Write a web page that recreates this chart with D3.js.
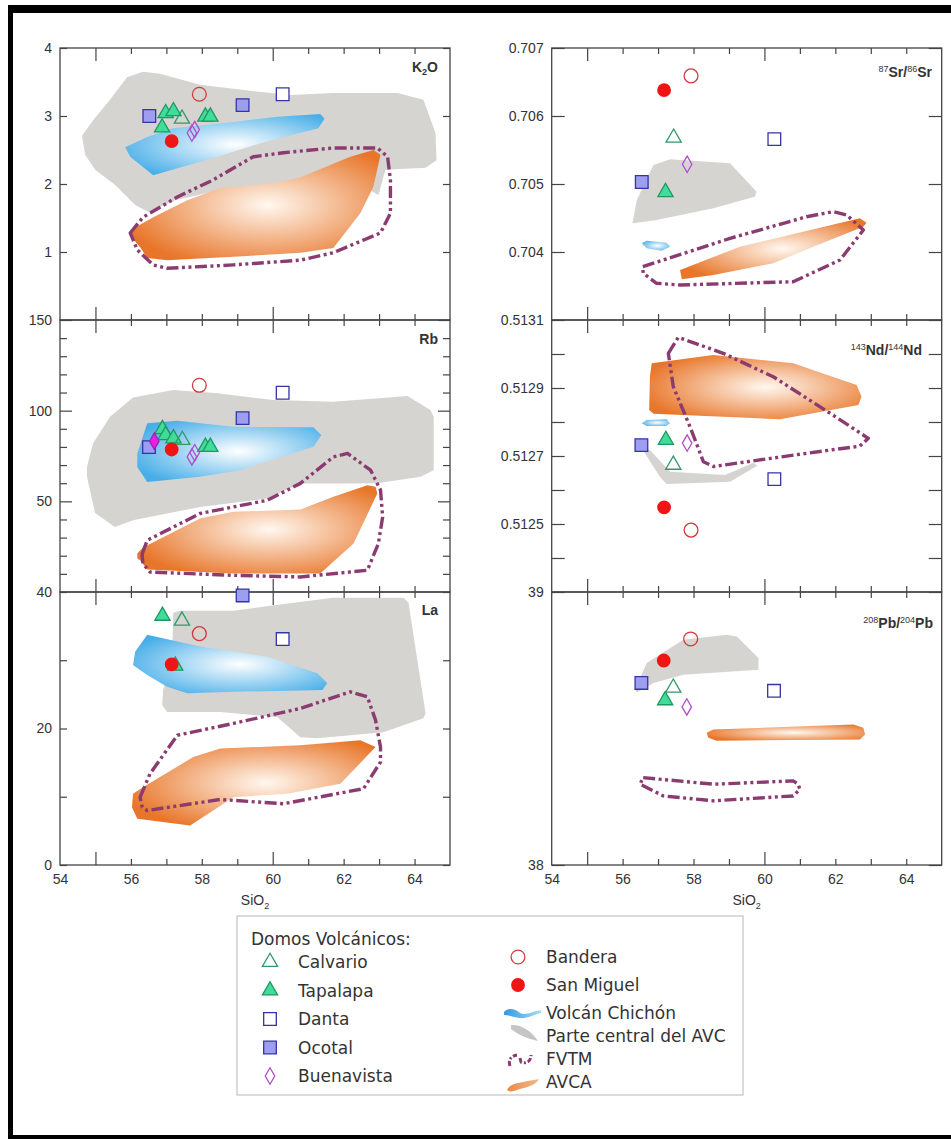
<!DOCTYPE html>
<html><head><meta charset="utf-8">
<script src="https://cdn.jsdelivr.net/npm/d3@7"></script>
<style>
body{margin:0;background:#fff}
svg{display:block}
text{font-family:"Liberation Sans",Arial,sans-serif;fill:#333}
.leg text{font-family:"DejaVu Sans",sans-serif}
</style>
</head><body>
<svg id="c" width="951" height="1139"></svg>
<script>
// ---------------- DATA ----------------
const sio2Domain = [54, 65];
const xLabelTicks = [54, 56, 58, 60, 62, 64];
const xMajorTicks = [55, 60];
const xMinorTicks = [56, 57, 58, 59, 61, 62, 63, 64];

const k2oTicks = [1, 2, 3, 4];
const rbTicks = [50, 100, 150];
const rbMinor = [10, 20, 30, 40, 60, 70, 80, 90, 110, 120, 130, 140];
const laTicks = [0, 20, 40];
const laMinor = [10, 30];
const srTicks = [0.704, 0.705, 0.706, 0.707];
const ndTicks = [0.5125, 0.5127, 0.5129, 0.5131];
const ndMinor = [0.5124, 0.5126, 0.5128, 0.5130];
const pbTicks = [38, 39];

// sample points [SiO2, value]
const calvario = {K2O:[[57.44,2.96]], Rb:[[57.45,83.8]], La:[[57.44,35.8]], Sr:[[57.44,0.70568]], Nd:[[57.43,0.512674]], Pb:[[57.43,38.649]]};
const tapalapa = {K2O:[[56.98,3.04],[57.2,3.07],[56.88,2.83],[58.1,2.99],[58.24,2.99]], Rb:[[56.89,89.8],[56.98,86.5],[57.2,84.7],[58.1,80],[58.24,80]], La:[[56.89,36.5],[57.25,29.2]], Sr:[[57.21,0.70488]], Nd:[[57.22,0.512747]], Pb:[[57.2,38.603]]};
const danta = {K2O:[[60.28,3.32]], Rb:[[60.28,109.9]], La:[[60.28,33.1]], Sr:[[60.28,0.70566]], Nd:[[60.28,0.512632]], Pb:[[60.27,38.638]]};
const ocotal = {K2O:[[56.52,3.0],[59.15,3.16]], Rb:[[56.51,79.9],[59.15,95.9]], La:[[59.15,39.5]], Sr:[[56.54,0.70503]], Nd:[[56.53,0.512732]], Pb:[[56.53,38.667]]};
const buenavista = {K2O:[[57.72,2.75],[57.8,2.80]], Rb:[[57.72,74.5],[57.8,76.8]], La:[], Sr:[[57.82,0.70529]], Nd:[[57.82,0.512738]], Pb:[[57.81,38.579]]};
const buenavistaFilled = {Rb:[[56.66,83.2]]};
const bandera = {K2O:[[57.93,3.32]], Rb:[[57.93,114]], La:[[57.93,33.9]], Sr:[[57.93,0.70659]], Nd:[[57.93,0.512482]], Pb:[[57.92,38.828]]};
const sanMiguel = {K2O:[[57.15,2.63]], Rb:[[57.15,78.6]], La:[[57.15,29.4]], Sr:[[57.17,0.70638]], Nd:[[57.17,0.512549]], Pb:[[57.16,38.749]]};

// fields (polygon vertices [SiO2, value])
const centralAVC = {
  K2O:[[55.89,3.57],[56.34,3.65],[56.82,3.62],[57.95,3.46],[59.37,3.37],[60.50,3.31],[61.71,3.34],[63.52,3.34],[64.25,3.24],[64.59,2.75],[64.62,2.35],[64.31,2.24],[63.18,2.21],[62.98,1.84],[62.47,1.99],[61.34,2.06],[59.99,2.00],[58.52,1.91],[57.25,1.76],[56.49,1.59],[56.12,1.69],[55.55,1.99],[54.99,2.21],[54.71,2.43],[54.62,2.71],[54.94,2.94],[55.41,3.24]],
  Rb:[[54.76,69.0],[54.93,81.9],[55.41,96.6],[56.06,107.3],[57.19,111.4],[58.44,109.6],[60.02,105.9],[61.71,104.9],[63.80,108.1],[64.45,100.3],[64.54,96.6],[64.54,67.2],[64.17,63.5],[62.95,60.0],[62.19,59.9],[60.78,59.9],[59.85,51.6],[57.95,46.9],[56.06,39.6],[55.55,35.9],[54.99,43.5],[54.76,63.5]],
  La:[[57.19,36.96],[57.39,37.25],[58.89,37.25],[59.93,37.99],[61.71,39.16],[63.69,39.16],[63.83,38.43],[64.31,22.25],[64.25,21.51],[63.12,19.46],[61.26,18.57],[60.78,18.72],[60.13,21.66],[58.52,22.40],[57.02,22.40],[56.88,23.43],[56.91,25.63],[57.16,30.04],[57.19,35.63]],
  Sr:[[56.28,0.704431],[56.40,0.704765],[56.87,0.705279],[57.34,0.705363],[59.03,0.705304],[59.78,0.704887],[59.73,0.704813],[58.56,0.704643],[56.96,0.704471],[56.30,0.704422]],
  Nd:[[56.54,0.512723],[56.77,0.512718],[57.34,0.512654],[58.89,0.512644],[59.69,0.512680],[59.80,0.512671],[59.03,0.512624],[57.24,0.512618],[57.05,0.512639]],
  Pb:[[56.35,38.642],[56.68,38.740],[57.71,38.825],[58.94,38.843],[59.22,38.837],[59.83,38.758],[59.83,38.715],[57.71,38.697],[56.87,38.667],[56.40,38.632]]
};
const chichon = {
  K2O:[[55.84,2.54],[56.46,2.69],[57.19,2.82],[58.89,2.91],[60.13,2.99],[61.34,3.03],[61.46,2.96],[61.29,2.82],[59.65,2.60],[58.44,2.40],[56.63,2.13],[55.98,2.40]],
  Rb:[[56.18,76.4],[56.46,93.0],[57.31,94.4],[58.89,91.1],[61.15,90.8],[61.37,86.5],[61.15,80.1],[59.08,67.2],[57.95,63.5],[56.46,60.7],[56.18,69.0]],
  La:[[56.06,29.31],[56.12,31.26],[56.46,33.72],[57.95,32.0],[59.85,30.53],[61.26,28.09],[61.54,26.62],[61.40,25.63],[58.89,25.38],[57.59,25.15],[57.02,26.12],[56.46,27.84]],
  Sr:[[56.54,0.704128],[56.68,0.704166],[57.24,0.704137],[57.34,0.704078],[57.10,0.704019],[56.68,0.704054]],
  Nd:[[56.54,0.512796],[56.68,0.512806],[57.24,0.512808],[57.34,0.512796],[57.22,0.512788],[56.68,0.512788]],
  Pb:[]
};
const avca = {
  K2O:[[55.98,1.32],[56.63,1.51],[57.59,1.76],[58.52,1.94],[60.02,2.01],[60.78,2.10],[62.19,2.40],[62.84,2.50],[63.04,2.43],[62.84,1.96],[62.47,1.57],[61.71,1.06],[60.78,0.99],[58.89,0.93],[57.02,0.88],[56.46,0.91],[56.26,1.07],[56.03,1.21]],
  Rb:[[56.18,21.2],[56.34,24.5],[57.95,40.5],[58.89,44.2],[60.78,45.5],[61.71,52.5],[62.67,58.9],[62.90,58.0],[62.95,54.3],[62.28,26.7],[61.34,10.2],[58.89,10.2],[56.46,12.4],[56.26,17.5],[56.18,18.5]],
  La:[[56.06,10.44],[56.34,11.41],[57.76,15.82],[58.52,17.06],[60.78,17.54],[62.47,18.28],[62.90,17.29],[61.91,11.90],[60.41,10.44],[58.89,9.94],[58.32,7.99],[57.67,5.78],[56.18,6.76],[56.03,8.47]],
  Sr:[[57.62,0.703735],[59.31,0.704078],[60.91,0.704275],[62.69,0.704496],[62.88,0.704431],[62.79,0.704372],[61.38,0.704078],[60.25,0.703834],[58.56,0.703662],[57.67,0.703599]],
  Nd:[[56.82,0.512973],[58.56,0.512997],[60.81,0.512973],[62.60,0.512909],[62.74,0.512874],[62.65,0.512850],[60.44,0.512808],[56.87,0.512824],[56.75,0.512835],[56.77,0.512933]],
  Pb:[[58.37,38.484],[58.56,38.496],[62.51,38.515],[62.79,38.503],[62.84,38.478],[62.69,38.460],[58.65,38.455],[58.42,38.466]]
};
const fvtm = {
  K2O:[[55.98,1.28],[56.34,1.51],[57.31,1.81],[58.32,2.06],[59.45,2.40],[60.30,2.46],[61.71,2.53],[62.95,2.53],[63.24,2.40],[63.32,2.06],[63.32,1.57],[63.04,1.28],[61.71,0.99],[60.78,0.88],[58.89,0.81],[57.02,0.76],[56.63,0.81],[56.18,1.03]],
  Rb:[[56.32,21.2],[56.46,28.5],[57.95,43.3],[59.85,50.6],[60.78,59.9],[61.71,74.5],[62.11,76.4],[62.76,67.2],[63.04,56.2],[63.10,41.4],[62.98,26.7],[62.67,12.0],[60.78,8.3],[58.89,9.2],[56.54,11.0],[56.34,15.7],[56.32,19.3]],
  La:[[56.26,9.94],[56.54,13.38],[57.31,19.01],[58.89,20.74],[60.78,22.94],[62.19,25.38],[62.67,24.65],[62.90,21.22],[63.04,17.29],[63.04,15.09],[62.56,11.18],[60.30,8.97],[58.52,9.6],[56.46,7.99],[56.32,8.47]],
  Sr:[[56.57,0.703784],[59.03,0.704201],[61.19,0.704519],[61.94,0.704593],[62.32,0.704544],[62.79,0.704324],[62.13,0.703882],[60.81,0.703563],[57.62,0.703515],[56.96,0.703540],[56.58,0.703687]],
  Nd:[[57.29,0.513002],[57.57,0.513049],[58.84,0.513002],[60.25,0.512933],[61.85,0.512826],[62.93,0.512752],[62.69,0.512729],[61.19,0.512708],[58.56,0.512669],[58.28,0.512683],[57.90,0.512786],[57.43,0.512904]],
  Pb:[[56.58,38.320],[58.56,38.296],[60.81,38.308],[60.95,38.296],[61.00,38.277],[60.81,38.253],[58.56,38.235],[57.15,38.253],[56.49,38.296]]
};

const legendLeft = ["Calvario", "Tapalapa", "Danta", "Ocotal", "Buenavista"];
const legendRight = ["Bandera", "San Miguel", "Volcán Chichón", "Parte central del AVC", "FVTM", "AVCA"];

// ---------------- LAYOUT / STYLE ----------------
const colX = [[60, 450], [551.7, 941.7]];
const rowY = [48, 320, 592, 865];
const panels = [
  {key:"K2O", col:0, row:0, domain:[0,4], ticks:k2oTicks, minor:[], fmt:d3.format("d"), major:7, minorLen:7},
  {key:"Rb", col:0, row:1, domain:[0,150], ticks:rbTicks, minor:rbMinor, fmt:d3.format("d"), major:12, minorLen:7},
  {key:"La", col:0, row:2, domain:[0,40], ticks:laTicks, minor:laMinor, fmt:d3.format("d"), major:7, minorLen:7},
  {key:"Sr", col:1, row:0, domain:[0.703,0.707], ticks:srTicks, minor:[], fmt:d3.format(".3f"), major:13, minorLen:13},
  {key:"Nd", col:1, row:1, domain:[0.5123,0.5131], ticks:ndTicks, minor:ndMinor, fmt:d3.format(".4f"), major:13, minorLen:13},
  {key:"Pb", col:1, row:2, domain:[38,39], ticks:pbTicks, minor:[], fmt:d3.format("d"), major:13, minorLen:13}
];

const svg = d3.select("#c");
const defs = svg.append("defs");
function radial(id, c0, c1, cx, cy, r){
  const g = defs.append("radialGradient").attr("id", id).attr("cx", cx).attr("cy", cy).attr("r", r);
  g.append("stop").attr("offset", 0).attr("stop-color", c0);
  g.append("stop").attr("offset", 1).attr("stop-color", c1);
}
radial("gBlue", "#ffffff", "#48aee8", 0.55, 0.5, 0.62);
radial("gOrange", "#fff8f0", "#e8762a", 0.55, 0.5, 0.6);
const lg = defs.append("linearGradient").attr("id","gBlueL");
lg.append("stop").attr("offset",0).attr("stop-color","#2f9be0");
lg.append("stop").attr("offset",1).attr("stop-color","#a5dcf7");
const lo = defs.append("linearGradient").attr("id","gOrangeL");
lo.append("stop").attr("offset",0).attr("stop-color","#e98a45");
lo.append("stop").attr("offset",1).attr("stop-color","#f2b88a");

const fields = [
  {data: centralAVC, fill: "#d6d4d1"},
  {data: chichon, fill: "url(#gBlue)"},
  {data: avca, fill: "url(#gOrange)"}
];
const FVTM_STYLE = {stroke:"#8b3b70", width:3.4, dash:"12,3.5,3,3.5,3,3.5"};

const series = [
  {name:"Tapalapa", data:tapalapa, sym:d3.symbolTriangle, size:100, fill:"#41dc9a", stroke:"#1e9862"},
  {name:"Calvario", data:calvario, sym:d3.symbolTriangle, size:100, fill:"none", stroke:"#2e9a6a"},
  {name:"Danta", data:danta, sym:d3.symbolSquare, size:160, fill:"#ffffff", stroke:"#3434a6"},
  {name:"Ocotal", data:ocotal, sym:d3.symbolSquare, size:160, fill:"#9e9ef0", stroke:"#3434a6"},
  {name:"Buenavista", data:buenavista, sym:d3.symbolDiamond, size:78, fill:"none", stroke:"#b24ccf"},
  {name:"BuenavistaF", data:buenavistaFilled, sym:d3.symbolDiamond, size:78, fill:"#e522e0", stroke:"#a51fb8"},
  {name:"Bandera", data:bandera, sym:d3.symbolCircle, size:150, fill:"none", stroke:"#d23a3a"},
  {name:"San Miguel", data:sanMiguel, sym:d3.symbolCircle, size:150, fill:"#f01414", stroke:"none"}
];
const styleByName = Object.fromEntries(series.map(s => [s.name, s]));

const titles = {
  K2O: [["K",null],["2","sub"],["O",null]],
  Rb: [["Rb",null]],
  La: [["La",null]],
  Sr: [["87","sup"],["Sr/",null],["86","sup"],["Sr",null]],
  Nd: [["143","sup"],["Nd/",null],["144","sup"],["Nd",null]],
  Pb: [["208","sup"],["Pb/",null],["204","sup"],["Pb",null]]
};
const titlePos = {K2O:[438,72], Rb:[438,344], La:[438,615], Sr:[932,77], Nd:[922,355], Pb:[933,628]};

function styleAxis(sel, labels){
  sel.select(".domain").remove();
  sel.selectAll(".tick line").attr("stroke", "#444").attr("stroke-width", 1.2);
  sel.selectAll(".tick text").attr("font-size", labels ? 14 : 0).attr("font-family", '"Liberation Sans", Arial, sans-serif').attr("fill", "#333");
  sel.attr("font-family", null).attr("font-size", null);
}

panels.forEach(p => {
  const [x0, x1] = colX[p.col];
  const top = rowY[p.row], bottom = rowY[p.row + 1];
  const x = d3.scaleLinear().domain(sio2Domain).range([x0, x1]);
  const y = d3.scaleLinear().domain(p.domain).range([bottom, top]);
  const g = svg.append("g");
  const line = d3.line().x(d => x(d[0])).y(d => y(d[1])).curve(d3.curveLinearClosed);

  fields.forEach(f => {
    const pts = f.data[p.key];
    if (pts && pts.length) g.append("path").attr("d", line(pts)).attr("fill", f.fill).attr("stroke", "none");
  });
  const fp = fvtm[p.key];
  if (fp && fp.length) g.append("path").attr("d", line(fp)).attr("fill", "none")
    .attr("stroke", FVTM_STYLE.stroke).attr("stroke-width", FVTM_STYLE.width)
    .attr("stroke-dasharray", FVTM_STYLE.dash).attr("stroke-linejoin", "round");

  // frame
  g.append("rect").attr("x", x0).attr("y", top).attr("width", x1 - x0).attr("height", bottom - top)
    .attr("fill", "none").attr("stroke", "#444").attr("stroke-width", 1.3);

  // x ticks top (inward) and bottom (inward)
  g.append("g").attr("transform", `translate(0,${top})`)
    .call(d3.axisTop(x).tickValues(xMajorTicks).tickSizeInner(-13).tickSizeOuter(0).tickFormat("")).call(s => styleAxis(s, false));
  g.append("g").attr("transform", `translate(0,${top})`)
    .call(d3.axisTop(x).tickValues(xMinorTicks).tickSizeInner(-6).tickSizeOuter(0).tickFormat("")).call(s => styleAxis(s, false));
  g.append("g").attr("transform", `translate(0,${bottom})`)
    .call(d3.axisBottom(x).tickValues(xMajorTicks).tickSizeInner(-13).tickSizeOuter(0).tickFormat("")).call(s => styleAxis(s, false));
  g.append("g").attr("transform", `translate(0,${bottom})`)
    .call(d3.axisBottom(x).tickValues(xMinorTicks).tickSizeInner(-6).tickSizeOuter(0).tickFormat("")).call(s => styleAxis(s, false));
  if (p.row === 2) {
    g.append("g").attr("transform", `translate(0,${bottom})`)
      .call(d3.axisBottom(x).tickValues(xLabelTicks).tickSize(0).tickPadding(9).tickFormat(d3.format("d"))).call(s => styleAxis(s, true));
    const t = g.append("text").attr("x", (x0 + x1) / 2).attr("y", bottom + 40).attr("text-anchor", "middle").attr("font-size", 14);
    t.append("tspan").text("SiO");
    t.append("tspan").text("2").attr("font-size", 9).attr("dy", 4);
  }

  // y axes
  g.append("g").attr("transform", `translate(${x0},0)`)
    .call(d3.axisLeft(y).tickValues(p.ticks).tickSizeInner(-p.major).tickSizeOuter(0).tickPadding(8).tickFormat(p.fmt)).call(s => styleAxis(s, true));
  if (p.minor.length) g.append("g").attr("transform", `translate(${x0},0)`)
    .call(d3.axisLeft(y).tickValues(p.minor).tickSizeInner(-p.minorLen).tickSizeOuter(0).tickFormat("")).call(s => styleAxis(s, false));
  g.append("g").attr("transform", `translate(${x1},0)`)
    .call(d3.axisRight(y).tickValues(p.ticks).tickSizeInner(-p.major).tickSizeOuter(0).tickFormat("")).call(s => styleAxis(s, false));
  if (p.minor.length) g.append("g").attr("transform", `translate(${x1},0)`)
    .call(d3.axisRight(y).tickValues(p.minor).tickSizeInner(-p.minorLen).tickSizeOuter(0).tickFormat("")).call(s => styleAxis(s, false));

  // title
  const tp = titlePos[p.key];
  const tt = g.append("text").attr("x", tp[0]).attr("y", tp[1]).attr("text-anchor", "end")
    .attr("font-size", 14).attr("font-weight", "bold");
  titles[p.key].forEach(([s, k]) => {
    const ts = tt.append("tspan").text(s);
    if (k === "sup") ts.attr("font-size", 9).attr("baseline-shift", "55%").attr("font-weight", "normal");
    if (k === "sub") ts.attr("font-size", 9).attr("baseline-shift", "-35%");
  });

  // markers
  series.forEach(s => {
    const pts = s.data[p.key] || [];
    g.selectAll(null).data(pts).join("path")
      .attr("transform", d => `translate(${x(d[0])},${y(d[1])})`)
      .attr("d", d3.symbol(s.sym, s.size)())
      .attr("fill", s.fill).attr("stroke", s.stroke).attr("stroke-width", 1.3);
  });
});

// ---------------- LEGEND ----------------
const L = svg.append("g").attr("class", "leg");
L.append("rect").attr("x", 237).attr("y", 916).attr("width", 506).attr("height", 179)
  .attr("fill", "#fff").attr("stroke", "#c4c4c4").attr("stroke-width", 1.2);
L.append("text").attr("x", 251).attr("y", 945).attr("font-size", 17).text("Domos Volcánicos:");
legendLeft.forEach((name, i) => {
  const s = styleByName[name];
  const cy = 962 + i * 28.5;
  L.append("path").attr("transform", `translate(270,${cy})`).attr("d", d3.symbol(s.sym, s.size)())
    .attr("fill", s.fill === "#ffffff" ? "none" : s.fill).attr("stroke", s.stroke).attr("stroke-width", 1.3);
  L.append("text").attr("x", 298).attr("y", cy + 6).attr("font-size", 17).text(name);
});
const rightY = [957, 985, 1013, 1036, 1059, 1082];
legendRight.forEach((name, i) => {
  const cy = rightY[i];
  L.append("text").attr("x", 546).attr("y", cy + 6).attr("font-size", 17).text(name);
  if (styleByName[name]) {
    const s = styleByName[name];
    L.append("path").attr("transform", `translate(518,${cy})`).attr("d", d3.symbol(s.sym, s.size)())
      .attr("fill", s.fill).attr("stroke", s.stroke).attr("stroke-width", 1.3);
  }
});
// field icons
L.append("path").attr("d", "M504,1012 C509,1007 515,1009 520,1013 C526,1016 533,1011 541,1010 L541,1013 C533,1015 527,1019 519,1018 C513,1017 509,1015 504,1015 Z")
  .attr("fill", "url(#gBlueL)");
L.append("path").attr("d", "M511,1025 C520,1024 531,1030 538,1041 C528,1039 517,1034 511,1029 Z").attr("fill", "#c5c5c5");
L.append("path").attr("d", "M510,1066 C508,1060 511,1056 517,1055 M520,1058 L521,1062 C526,1064 531,1062 531,1055")
  .attr("fill", "none").attr("stroke", FVTM_STYLE.stroke).attr("stroke-width", 3).attr("stroke-dasharray", "5,2,2,2");
L.append("path").attr("d", "M507,1090 C510,1083 520,1083 528,1081 L539,1079 C536,1085 528,1087 520,1089 C514,1091 510,1093 507,1090 Z")
  .attr("fill", "url(#gOrangeL)");

// ---------------- OUTER FRAME ----------------
svg.append("rect").attr("x", 8).attr("y", 5).attr("width", 943).attr("height", 8).attr("fill", "#000");
svg.append("rect").attr("x", 8).attr("y", 5).attr("width", 5).attr("height", 1134).attr("fill", "#000");
svg.append("rect").attr("x", 8).attr("y", 1135).attr("width", 943).attr("height", 4).attr("fill", "#000");
</script>
</body></html>
